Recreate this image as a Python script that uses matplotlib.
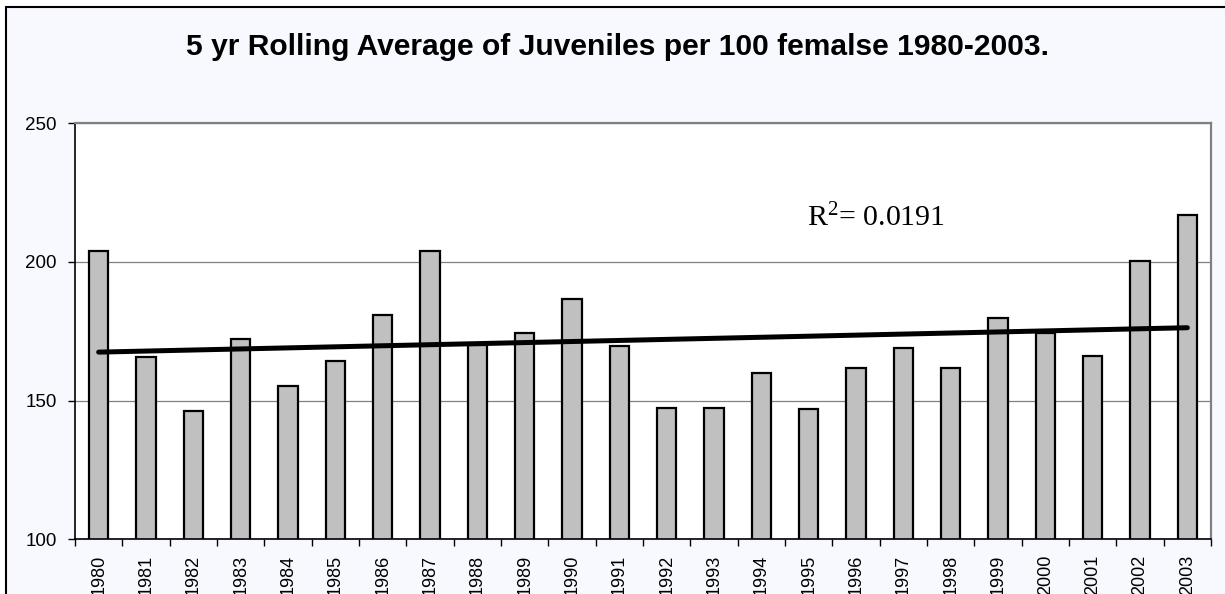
import numpy as np
import matplotlib.pyplot as plt
from matplotlib.patches import Rectangle

# 5 yr rolling average values
years = [str(y) for y in range(1980, 2004)]
juveniles = [204.1, 165.8, 146.3, 172.3, 155.4, 164.2, 181.0, 204.1, 170.0, 174.5,
             186.5, 169.7, 147.2, 147.5, 159.8, 146.9, 161.6, 169.0, 161.9, 179.8,
             174.3, 166.1, 200.5, 216.9]
r2_label = r'R$^2$= 0.0191'

plt.rcParams['mathtext.fontset'] = 'custom'
plt.rcParams['mathtext.rm'] = 'Liberation Serif'
plt.rcParams['mathtext.it'] = 'Liberation Serif'
plt.rcParams['mathtext.default'] = 'rm'

tick_font = 'Liberation Sans'

fig = plt.figure(figsize=(12.25, 5.94), dpi=100, facecolor='white')

# outer chart frame (only left and top edges fall inside the picture)
fig.patches.append(Rectangle((6 / 1225, -0.2), 1.2, 1.2 - 7 / 594,
                             transform=fig.transFigure, facecolor='#F8F9FF',
                             edgecolor='black', linewidth=1.5, zorder=-5))

ax = fig.add_axes([75 / 1225, 1 - 539.3 / 594, (1211 - 75) / 1225, (539.3 - 123.3) / 594])
ax.set_zorder(2)
ax.set_facecolor('white')

x = np.arange(len(years))
ax.bar(x, juveniles, width=0.41, color='#C0C0C0', edgecolor='black', linewidth=1.6,
       bottom=0, zorder=2)

# linear trendline
coef = np.polyfit(x, juveniles, 1)
ax.plot([x[0], x[-1]], np.polyval(coef, [x[0], x[-1]]), color='black', linewidth=3.6,
        solid_capstyle='round', zorder=3)

ax.text(807 / 1225, 1 - 226 / 594, r2_label, transform=fig.transFigure, fontsize=21.5,
        family='Liberation Serif', va='baseline', ha='left', zorder=4)

ax.set_xlim(-0.5, len(years) - 0.5)
ax.set_ylim(100, 250)
ax.set_yticks([100, 150, 200, 250])
ax.yaxis.grid(True, color='#808080', linewidth=0.9)
ax.set_axisbelow(True)

ax.set_xticks(x)
ax.set_xticklabels(years, rotation=90, fontsize=13, family=tick_font, va='top')
ax.set_xticks(np.arange(-0.5, len(years)), minor=True)
ax.tick_params(axis='x', which='major', length=0, pad=11)
ax.tick_params(axis='x', which='minor', length=5, width=1, color='black', direction='out')
ax.tick_params(axis='y', length=5, width=1, pad=8, labelsize=13.5)
for lab in ax.get_yticklabels():
    lab.set_family(tick_font)

ax.spines['left'].set_color('black')
ax.spines['left'].set_linewidth(1.2)
ax.spines['bottom'].set_color('black')
ax.spines['bottom'].set_linewidth(1.2)
ax.spines['top'].set_color('#808080')
ax.spines['top'].set_linewidth(1.6)
ax.spines['right'].set_color('#808080')
ax.spines['right'].set_linewidth(1.6)

fig.text(617 / 1225, 1 - 55 / 594, '5 yr Rolling Average of Juveniles per 100 femalse 1980-2003.',
         ha='center', va='baseline', fontsize=21.6, fontweight='bold', family='Liberation Sans')

plt.savefig('out.png', dpi=100)
